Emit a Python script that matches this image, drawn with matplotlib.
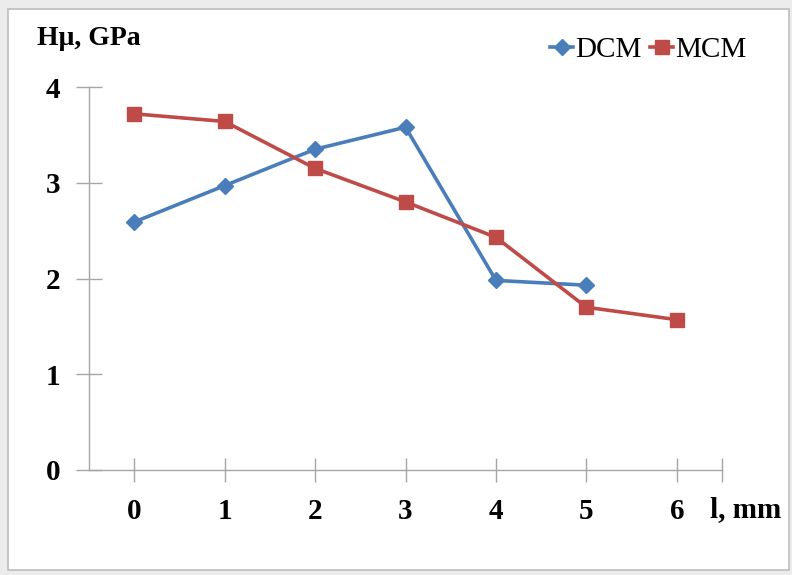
import matplotlib.pyplot as plt
from matplotlib.patches import Rectangle

# data
positions = [0, 1, 2, 3, 4, 5, 6]
dcm_x = [0, 1, 2, 3, 4, 5]
dcm_y = [2.59, 2.97, 3.35, 3.58, 1.98, 1.93]
mcm_x = [0, 1, 2, 3, 4, 5, 6]
mcm_y = [3.72, 3.64, 3.15, 2.80, 2.43, 1.70, 1.57]

plt.rcParams["font.family"] = ["Liberation Serif", "DejaVu Serif"]

fig = plt.figure(figsize=(7.92, 5.75), dpi=100)
fig.patch.set_facecolor("#ececec")

# white panel with thin grey frame (behind the axes)
fig.patches.append(Rectangle((8 / 792, 5 / 575), 781 / 792, 561 / 575,
                             transform=fig.transFigure, facecolor="white",
                             edgecolor="#bdbdbd", linewidth=1.2, zorder=-5))

ax = fig.add_axes([89 / 792, 1 - 470 / 575, 633 / 792, 383 / 575])
ax.set_facecolor("none")

ax.plot(dcm_x, dcm_y, color="#4a7ebb", linewidth=2.6, marker="D",
        markersize=8, label="DCM")
ax.plot(mcm_x, mcm_y, color="#be4b48", linewidth=2.6, marker="s",
        markersize=10, label="MCM")

ax.set_xlim(-0.5, 6.5)
ax.set_ylim(0, 4)
ax.set_xticks(positions + [6.5])
ax.set_xticklabels([str(p) for p in positions] + [""])
ax.set_yticks([0, 1, 2, 3, 4])

for s in ["top", "right"]:
    ax.spines[s].set_visible(False)
for s in ["left", "bottom"]:
    ax.spines[s].set_color("#a6a6a6")
    ax.spines[s].set_linewidth(1.0)

ax.tick_params(axis="y", direction="inout", length=19, width=1.0,
               color="#a6a6a6", labelsize=21, pad=11)
ax.tick_params(axis="x", direction="inout", length=17, width=1.0,
               color="#a6a6a6", labelsize=21, pad=12)
for lbl in ax.get_xticklabels() + ax.get_yticklabels():
    lbl.set_fontweight("bold")

fig.text(37 / 792, 1 - 45 / 575, "Hμ, GPa", fontsize=20, fontweight="bold",
         ha="left", va="baseline")
fig.text(710 / 792, 1 - 510 / 575, "l, mm", fontsize=21, fontweight="bold",
         ha="left", va="center")

ax.legend(loc="center", bbox_to_anchor=(648 / 792, 1 - 50 / 575),
          bbox_transform=fig.transFigure, ncol=2, frameon=False,
          fontsize=21, handlelength=0.8, handletextpad=0.05,
          columnspacing=0.3, borderpad=0)

fig.savefig("out.png", dpi=100, facecolor=fig.get_facecolor())
